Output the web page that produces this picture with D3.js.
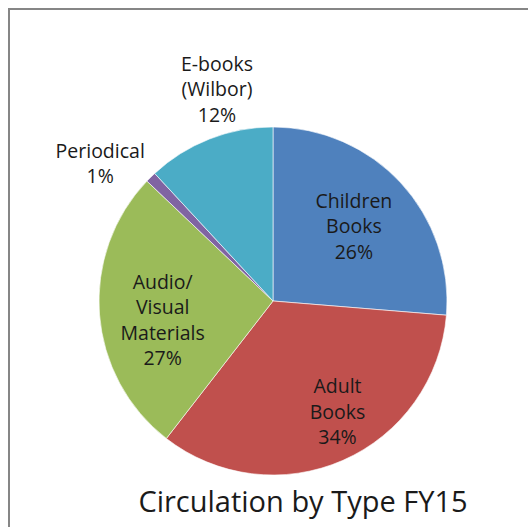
<!DOCTYPE html>
<html><head><meta charset="utf-8">
<script src="https://cdn.jsdelivr.net/npm/d3@7"></script>
<style>body{margin:0;background:#fff}svg{display:block}text{font-family:"Open Sans",sans-serif;fill:#1a1a1a}</style>
</head><body>
<svg id="c" width="528" height="527"></svg>
<script>
const categories = ["Children Books", "Adult Books", "Audio/ Visual Materials", "Periodical", "E-books (Wilbor)"];
const labelLines = [["Children","Books"],["Adult","Books"],["Audio/","Visual","Materials"],["Periodical"],["E-books","(Wilbor)"]];
const values = [26.3, 34.2, 26.6, 1.0, 11.9];
const colors = ["#4F81BD", "#C0504D", "#9BBB59", "#8064A2", "#4BACC6"];
const title = "Circulation by Type FY15";

const svg = d3.select("#c");
svg.append("rect").attr("x",9).attr("y",9).attr("width",560).attr("height",560)
  .attr("fill","none").attr("stroke","#868686").attr("stroke-width",2);

const cx = 273, cy = 301, R = 174;
const g = svg.append("g").attr("transform",`translate(${cx},${cy})`);
const pie = d3.pie().sort(null).value(d=>d);
const arcs = pie(values);
const arc = d3.arc().innerRadius(0).outerRadius(R);
g.selectAll("path").data(arcs).enter().append("path")
  .attr("d",arc).attr("fill",(d,i)=>colors[i]).attr("stroke","#fff").attr("stroke-width",0.6);

// label placement: [radius, angle offset (deg)] per slice
const labelPlace = [[110,0],[128,-6.5],[112,-5.5],[221,-6.8],[219,6.6]];
const total = d3.sum(values);
const lh = 25.5;
arcs.forEach((d,i)=>{
  const mid = (d.startAngle+d.endAngle)/2 + labelPlace[i][1]*Math.PI/180;
  const r = labelPlace[i][0];
  const x = r*Math.sin(mid), y = -r*Math.cos(mid);
  const lines = labelLines[i].concat([Math.round(values[i]/total*100)+"%"]);
  const t = g.append("text").attr("text-anchor","middle").attr("font-size",19.5);
  const y0 = y - (lines.length-1)*lh/2 + 7;
  lines.forEach((s,k)=>t.append("tspan").attr("x",x).attr("y",y0+k*lh).text(s));
});

svg.append("text").attr("x",303).attr("y",512).attr("text-anchor","middle")
  .attr("font-size",29).text(title);
</script>
</body></html>
